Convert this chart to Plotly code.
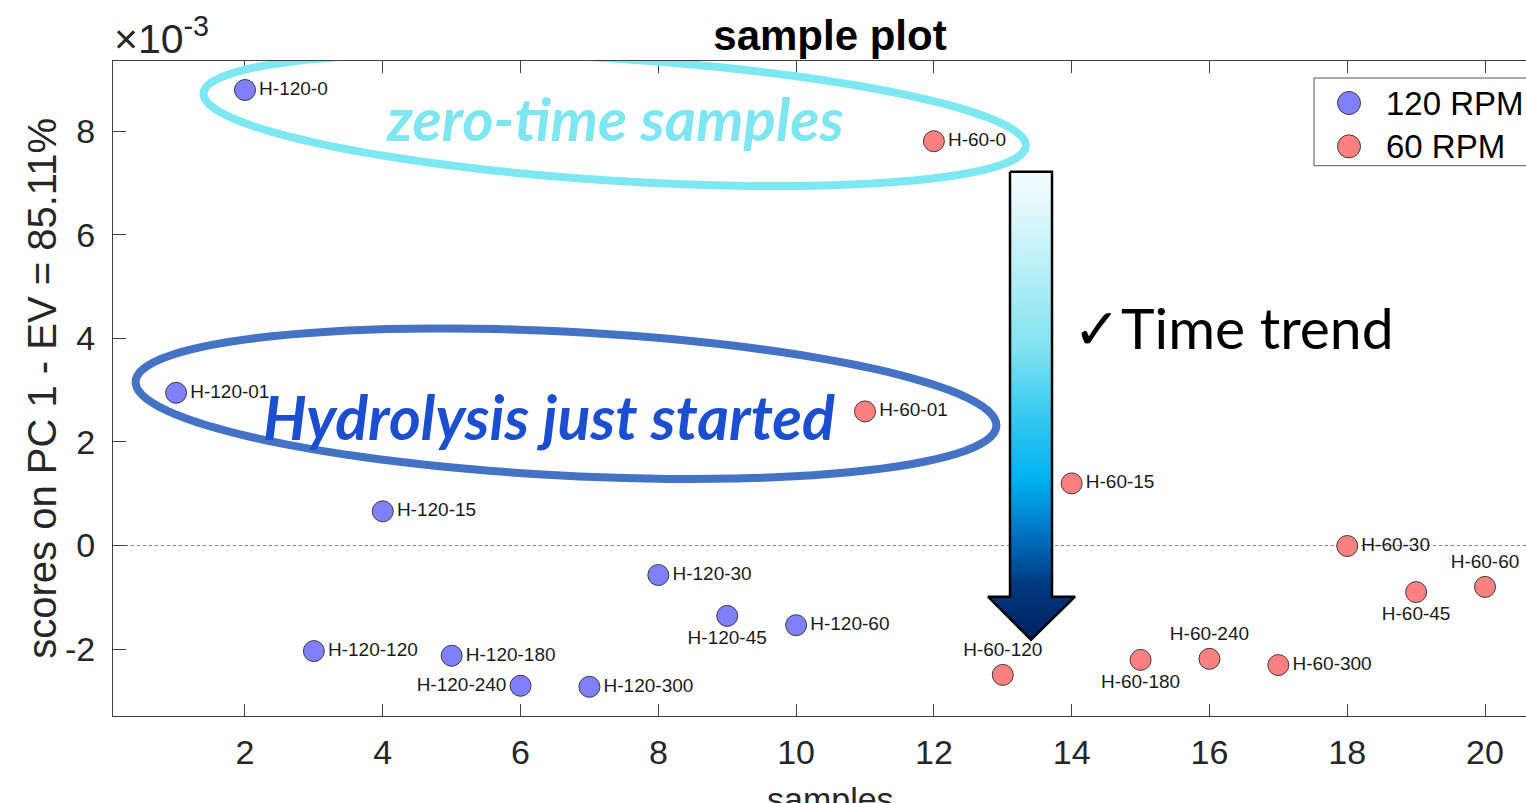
import numpy as np
import plotly.graph_objects as go

# ---------------- data (scores in units of 1e-3) ----------------
samples_120 = [1, 2, 3, 4, 5, 6, 7, 8, 9, 10]
scores_120 = [2.95, 8.80, -2.04, 0.66, -2.13, -2.71, -2.73, -0.57, -1.36, -1.54]
labels_120 = ["H-120-01", "H-120-0", "H-120-120", "H-120-15", "H-120-180",
              "H-120-240", "H-120-300", "H-120-30", "H-120-45", "H-120-60"]
pos_120 = ["middle right", "middle right", "middle right", "middle right", "middle right",
           "middle left", "middle right", "middle right", "bottom center", "middle right"]

samples_60 = [11, 12, 13, 14, 15, 16, 17, 18, 19, 20]
scores_60 = [2.59, 7.81, -2.50, 1.20, -2.21, -2.19, -2.31, -0.01, -0.90, -0.80]
labels_60 = ["H-60-01", "H-60-0", "H-60-120", "H-60-15", "H-60-180",
             "H-60-240", "H-60-300", "H-60-30", "H-60-45", "H-60-60"]
pos_60 = ["middle right", "middle right", "top center", "middle right", "bottom center",
          "top center", "middle right", "middle right", "bottom center", "top center"]

series_names = ["120 RPM", "60 RPM"]
series_colors = ["#8080ff", "#ff8080"]

x_ticks = [2, 4, 6, 8, 10, 12, 14, 16, 18, 20]
y_ticks = [-2, 0, 2, 4, 6, 8]
y_ticktext = ["-2", "0", "2", "4", "6", "8"]

# ---------------- layout geometry ----------------
W, H = 1526, 803
L, R, T, B = 113, 1526, 61.3, 716.3
xr = [0.084, 20.595]
yr = [-3.294, 9.36]


def px2x(p):
    return xr[0] + (p - L) / (R - L) * (xr[1] - xr[0])


def px2y(p):
    return yr[1] - (p - T) / (B - T) * (yr[1] - yr[0])


def pxx(p):  # pixel -> paper x
    return (p - L) / (R - L)


def pxy(p):  # pixel -> paper y
    return (B - p) / (B - T)


def ellipse_path(cx, cy, a, b, deg, n=120):
    th = np.radians(deg)
    t = np.linspace(0, 2 * np.pi, n)
    X = cx + a * np.cos(t) * np.cos(th) - b * np.sin(t) * np.sin(th)
    Y = cy + a * np.cos(t) * np.sin(th) + b * np.sin(t) * np.cos(th)
    pts = [f"{px2x(x):.4f},{px2y(y):.4f}" for x, y in zip(X, Y)]
    return "M" + " L".join(pts) + " Z"


AX = "#404040"
TXT = "#262626"
FONT = "Liberation Sans, Arial, sans-serif"

fig = go.Figure()

# gradient arrow (decoration)
arrow_px = [(1010, 172), (1052, 172), (1052, 597), (1075, 597), (1031, 640),
            (988, 597), (1010, 597), (1010, 172)]
fig.add_trace(go.Scatter(
    x=[px2x(p[0]) for p in arrow_px], y=[px2y(p[1]) for p in arrow_px],
    mode="lines", fill="toself",
    line=dict(color="black", width=2.5),
    fillgradient=dict(type="vertical", start=px2y(640), stop=px2y(172),
                      colorscale=[[0, "#00205e"], [0.12, "#003a80"], [0.2, "#0065b5"],
                                  [0.34, "#00b0f0"], [0.5, "#40cdf0"], [0.62, "#80e2f0"],
                                  [0.82, "#c2f1f8"], [1, "#f7fdfe"]]),
    showlegend=False, hoverinfo="skip"))

marker_line = dict(color="#3a3a3a", width=1)

fig.add_trace(go.Scatter(
    x=samples_120, y=scores_120, mode="markers+text", name=series_names[0],
    text=labels_120, textposition=pos_120,
    textfont=dict(family=FONT, size=19, color="#1a1a1a"),
    marker=dict(color=series_colors[0], size=21, line=marker_line), showlegend=False))
fig.add_trace(go.Scatter(
    x=samples_60, y=scores_60, mode="markers+text", name=series_names[1],
    text=labels_60, textposition=pos_60,
    textfont=dict(family=FONT, size=19, color="#1a1a1a"),
    marker=dict(color=series_colors[1], size=21, line=marker_line), showlegend=False))

# legend keys (drawn manually so the symbols can be as large as in the reference)
leg_rows_px = [103.3, 146.7]
fig.add_trace(go.Scatter(
    x=[px2x(1349)] * 2, y=[px2y(p) for p in leg_rows_px], mode="markers",
    marker=dict(color=series_colors, size=23, line=marker_line),
    showlegend=False, hoverinfo="skip", cliponaxis=False))

shapes = [
    dict(type="line", xref="x", yref="y", x0=xr[0], x1=xr[1], y0=0, y1=0,
         line=dict(color="#808080", width=1, dash="dot"), layer="below"),
    dict(type="path", xref="x", yref="y", path=ellipse_path(614.7, 120, 412, 61, 3.68),
         line=dict(color="#7ee8f2", width=8), layer="above"),
    dict(type="path", xref="x", yref="y", path=ellipse_path(566, 404, 431, 72, 2.96),
         line=dict(color="#4472c4", width=8), layer="above"),
    dict(type="rect", xref="paper", yref="paper", x0=pxx(1314), x1=pxx(1560),
         y0=pxy(166), y1=pxy(78.3), line=dict(color="#555555", width=1),
         fillcolor="white", layer="below"),
]

annotations = [
    dict(text="zero-time samples", x=px2x(615), y=px2y(118), xref="x", yref="y",
         showarrow=False, xanchor="center", yanchor="middle",
         font=dict(family="Lato", size=60, color="#7ee6f0", weight="bold", style="italic")),
    dict(text="Hydrolysis just started", x=px2x(549), y=px2y(417), xref="x", yref="y",
         showarrow=False, xanchor="center", yanchor="middle",
         font=dict(family="Lato", size=61, color="#1b4fd0", weight="bold", style="italic")),
    dict(text="✓Time trend", x=px2x(1233), y=px2y(327), xref="x", yref="y",
         showarrow=False, xanchor="center", yanchor="middle",
         font=dict(family="Lato", size=57, color="black")),
    dict(text="×10<sup>-3</sup>", x=pxx(112), y=pxy(36), xref="paper", yref="paper",
         showarrow=False, xanchor="left", yanchor="middle",
         font=dict(family=FONT, size=41, color=TXT)),
    dict(text="samples", x=pxx(830), y=pxy(778), xref="paper", yref="paper",
         showarrow=False, xanchor="center", yanchor="top",
         font=dict(family=FONT, size=34, color=TXT)),
    dict(text="scores on PC 1 - EV = 85.11%", x=pxx(42), y=pxy(389),
         xref="paper", yref="paper", textangle=-90,
         showarrow=False, xanchor="center", yanchor="middle",
         font=dict(family=FONT, size=40, color=TXT)),
]
for name, row in zip(series_names, leg_rows_px):
    annotations.append(dict(text=name, x=pxx(1384), y=pxy(row), xref="paper", yref="paper",
                            showarrow=False, xanchor="left", yanchor="middle",
                            font=dict(family=FONT, size=33, color="black")))

fig.update_layout(
    width=W, height=H,
    margin=dict(l=L, r=0, t=T, b=H - B, pad=0),
    paper_bgcolor="white", plot_bgcolor="white",
    title=dict(text="<b>sample plot</b>", x=pxx(830), xref="paper",
               y=1 - 35 / H, yref="container", xanchor="center", yanchor="middle",
               font=dict(family=FONT, size=42, color="black")),
    xaxis=dict(range=xr, tickvals=x_ticks, ticks="inside", ticklen=12, tickcolor=AX,
               showline=True, linecolor=AX, linewidth=1, mirror="ticks",
               showgrid=False, zeroline=False, ticklabelstandoff=6,
               tickfont=dict(family=FONT, size=34, color=TXT)),
    yaxis=dict(range=yr, tickvals=y_ticks, ticktext=y_ticktext, ticks="inside",
               ticklen=13, tickcolor=AX, showline=True, linecolor=AX, linewidth=1,
               mirror=False, showgrid=False, zeroline=False, ticklabelstandoff=10,
               tickfont=dict(family=FONT, size=34, color=TXT)),
    shapes=shapes, annotations=annotations, showlegend=False,
)

fig.write_html("out.html")
